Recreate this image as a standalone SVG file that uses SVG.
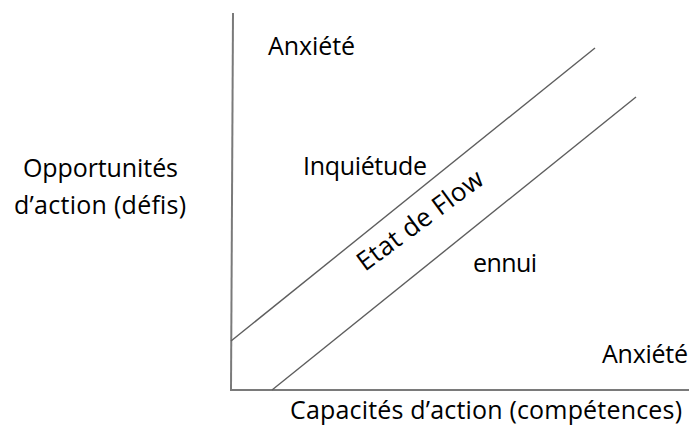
<svg xmlns="http://www.w3.org/2000/svg" width="689" height="432" viewBox="0 0 689 432">
<style>
text{font-family:"Open Sans","Noto Sans","Liberation Sans",sans-serif;font-size:25px;fill:#000}
.ax{stroke:#7a7a7a;stroke-width:2;fill:none}
.dg{stroke:#5e5e5e;stroke-width:1.4;fill:none}
</style>
<rect width="689" height="432" fill="#fff"/>
<g id="connectors">
<line id="y-axis" class="ax" x1="233" y1="13" x2="231" y2="390"/>
<line id="x-axis" class="ax" x1="230" y1="390" x2="689" y2="390"/>
<line id="upper-bound" class="dg" x1="231" y1="341" x2="595" y2="48"/>
<line id="lower-bound" class="dg" x1="272" y1="390" x2="636" y2="97"/>
</g>
<g id="label-anxiete-top"><text x="268" y="55" textLength="87">Anxiété</text></g>
<g id="label-opportunites"><text x="23" y="177" textLength="155">Opportunités</text><text x="14" y="214" textLength="172">d’action (défis)</text></g>
<g id="label-inquietude"><text x="303" y="175" textLength="124">Inquiétude</text></g>
<g id="label-flow"><text x="365" y="272" textLength="150" style="font-size:26px" transform="rotate(-36.5 365 272)">Etat de Flow</text></g>
<g id="label-ennui"><text x="473" y="272" textLength="64">ennui</text></g>
<g id="label-anxiete-bottom"><text x="602" y="363" textLength="86">Anxiété</text></g>
<g id="label-capacites"><text x="290" y="419" textLength="392">Capacités d’action (compétences)</text></g>
</svg>
